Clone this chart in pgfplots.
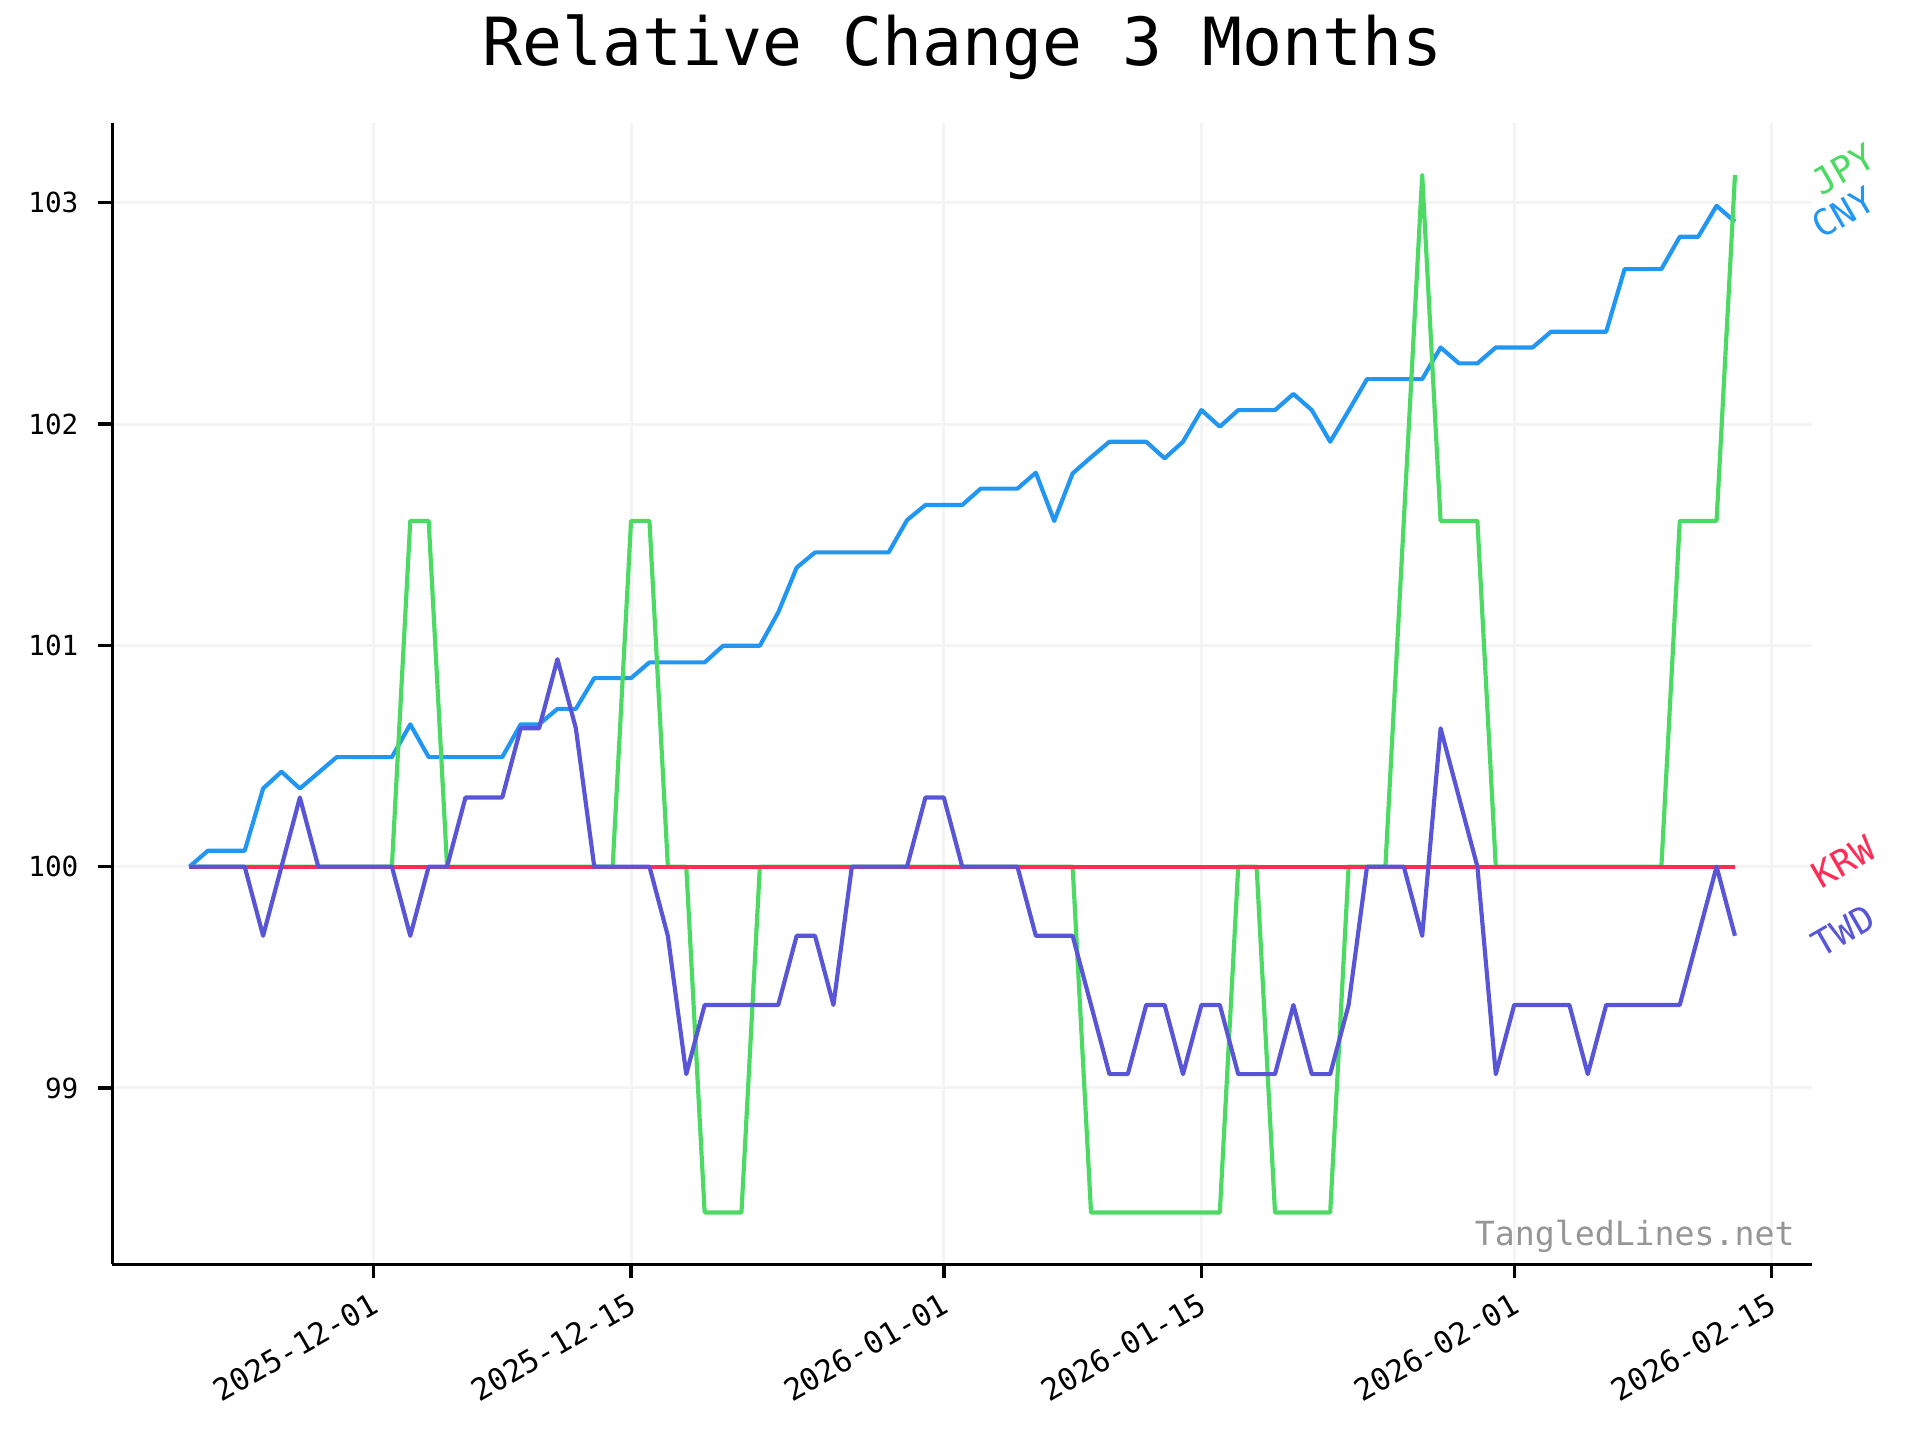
\documentclass[border=0pt]{standalone}
\usepackage{fontspec}
\setmainfont{DejaVu Sans Mono}
\usepackage{pgfplots}
\pgfplotsset{compat=1.18}
\usepackage{pgfplotstable}

\definecolor{cnyc}{RGB}{33,150,243}
\definecolor{jpyc}{RGB}{76,217,100}
\definecolor{krwc}{RGB}{255,45,85}
\definecolor{twdc}{RGB}{88,86,214}
\definecolor{gridc}{RGB}{244,244,244}
\definecolor{markc}{RGB}{150,150,150}

% d = days counted from 2025-12-01
\pgfplotstableread{
d   cny     jpy      krw  twd
-10 100.000 100      100  100
-9  100.072 100      100  100
-8  100.072 100      100  100
-7  100.072 100      100  100
-6  100.353 100      100  99.6875
-5  100.429 100      100  100
-4  100.353 100      100  100.3125
-3  100.424 100      100  100
-2  100.495 100      100  100
-1  100.495 100      100  100
0   100.495 100      100  100
1   100.495 100      100  100
2   100.643 101.5625 100  99.6875
3   100.495 101.5625 100  100
4   100.495 100      100  100
5   100.495 100      100  100.3125
6   100.495 100      100  100.3125
7   100.495 100      100  100.3125
8   100.643 100      100  100.625
9   100.643 100      100  100.625
10  100.713 100      100  100.9375
11  100.713 100      100  100.625
12  100.852 100      100  100
13  100.852 100      100  100
14  100.852 101.5625 100  100
15  100.923 101.5625 100  100
16  100.923 100      100  99.6875
17  100.923 100      100  99.0625
18  100.923 98.4375  100  99.375
19  100.998 98.4375  100  99.375
20  100.998 98.4375  100  99.375
21  100.998 100      100  99.375
22  101.149 100      100  99.375
23  101.351 100      100  99.6875
24  101.420 100      100  99.6875
25  101.420 100      100  99.375
26  101.420 100      100  100
27  101.420 100      100  100
28  101.420 100      100  100
29  101.566 100      100  100
30  101.634 100      100  100.3125
31  101.634 100      100  100.3125
32  101.634 100      100  100
33  101.708 100      100  100
34  101.708 100      100  100
35  101.708 100      100  100
36  101.780 100      100  99.6875
37  101.562 100      100  99.6875
38  101.777 100      100  99.6875
39  101.850 98.4375  100  99.375
40  101.920 98.4375  100  99.0625
41  101.920 98.4375  100  99.0625
42  101.920 98.4375  100  99.375
43  101.845 98.4375  100  99.375
44  101.920 98.4375  100  99.0625
45  102.063 98.4375  100  99.375
46  101.988 98.4375  100  99.375
47  102.063 100      100  99.0625
48  102.063 100      100  99.0625
49  102.063 98.4375  100  99.0625
50  102.136 98.4375  100  99.375
51  102.063 98.4375  100  99.0625
52  101.920 98.4375  100  99.0625
53  102.060 100      100  99.375
54  102.203 100      100  100
55  102.203 100      100  100
56  102.203 101.5625 100  100
57  102.203 103.125  100  99.6875
58  102.346 101.5625 100  100.625
59  102.274 101.5625 100  100.3125
60  102.274 101.5625 100  100
61  102.346 100      100  99.0625
62  102.346 100      100  99.375
63  102.346 100      100  99.375
64  102.417 100      100  99.375
65  102.417 100      100  99.375
66  102.417 100      100  99.0625
67  102.417 100      100  99.375
68  102.700 100      100  99.375
69  102.700 100      100  99.375
70  102.700 100      100  99.375
71  102.846 101.5625 100  99.375
72  102.846 101.5625 100  99.6875
73  102.986 101.5625 100  100
74  102.914 103.125  100  99.6875
}\rates

\begin{document}
\begin{tikzpicture}
\useasboundingbox (0,0) rectangle (691.2bp,518.4bp);
\begin{axis}[
    at={(40.4bp,63.25bp)}, anchor=south west,
    scale only axis, width=612bp, height=410.8bp,
    xmin=-14.2, xmax=78.2, ymin=98.203125, ymax=103.359375,
    axis x line*=bottom, axis y line*=left,
    axis line style={line width=1.2bp, black},
    tick align=outside, major tick length=5bp,
    tick style={line width=1.2bp, black},
    xtick={0,14,31,45,62,76},
    xticklabels={2025-12-01,2025-12-15,2026-01-01,2026-01-15,2026-02-01,2026-02-15},
    ytick={99,100,101,102,103},
    grid=major, major grid style={gridc, line width=1.1bp},
    /pgf/number format/assume math mode=true,
    xticklabel style={font=\fontsize{11}{13}\selectfont, xshift=-1.5bp, yshift=-4.5bp, rotate=30, anchor=north east, inner sep=0pt},
    yticklabel style={font=\fontsize{10}{12}\selectfont, xshift=-7bp, anchor=east, inner sep=0pt},
    title={Relative Change 3 Months},
    title style={font=\fontsize{24}{28}\selectfont, anchor=base, at={(0.5,1)}, yshift=14.7bp, inner sep=0pt},
    clip=false,
    every axis plot/.append style={line width=1.5bp, line join=round},
  ]
  \addplot[cnyc] table[x=d, y=cny] {\rates};
  \addplot[jpyc] table[x=d, y=jpy] {\rates};
  \addplot[krwc] table[x=d, y=krw] {\rates};
  \addplot[twdc] table[x=d, y=twd] {\rates};

  \node[rotate=30, anchor=base west, inner sep=0pt, text=jpyc, font=\fontsize{13}{15}\selectfont] at (axis cs:78.7,103.026) {JPY};
  \node[rotate=30, anchor=base west, inner sep=0pt, text=cnyc, font=\fontsize{13}{15}\selectfont] at (axis cs:78.7,102.831) {CNY};
  \node[rotate=30, anchor=base west, inner sep=0pt, text=krwc, font=\fontsize{13}{15}\selectfont] at (axis cs:78.7,99.896) {KRW};
  \node[rotate=30, anchor=base west, inner sep=0pt, text=twdc, font=\fontsize{13}{15}\selectfont] at (axis cs:78.7,99.584) {TWD};
  \node[anchor=south east, inner sep=0pt, text=markc, font=\fontsize{12}{14}\selectfont] at (rel axis cs:0.99,0.01) {TangledLines.net};
\end{axis}
\end{tikzpicture}
\end{document}
